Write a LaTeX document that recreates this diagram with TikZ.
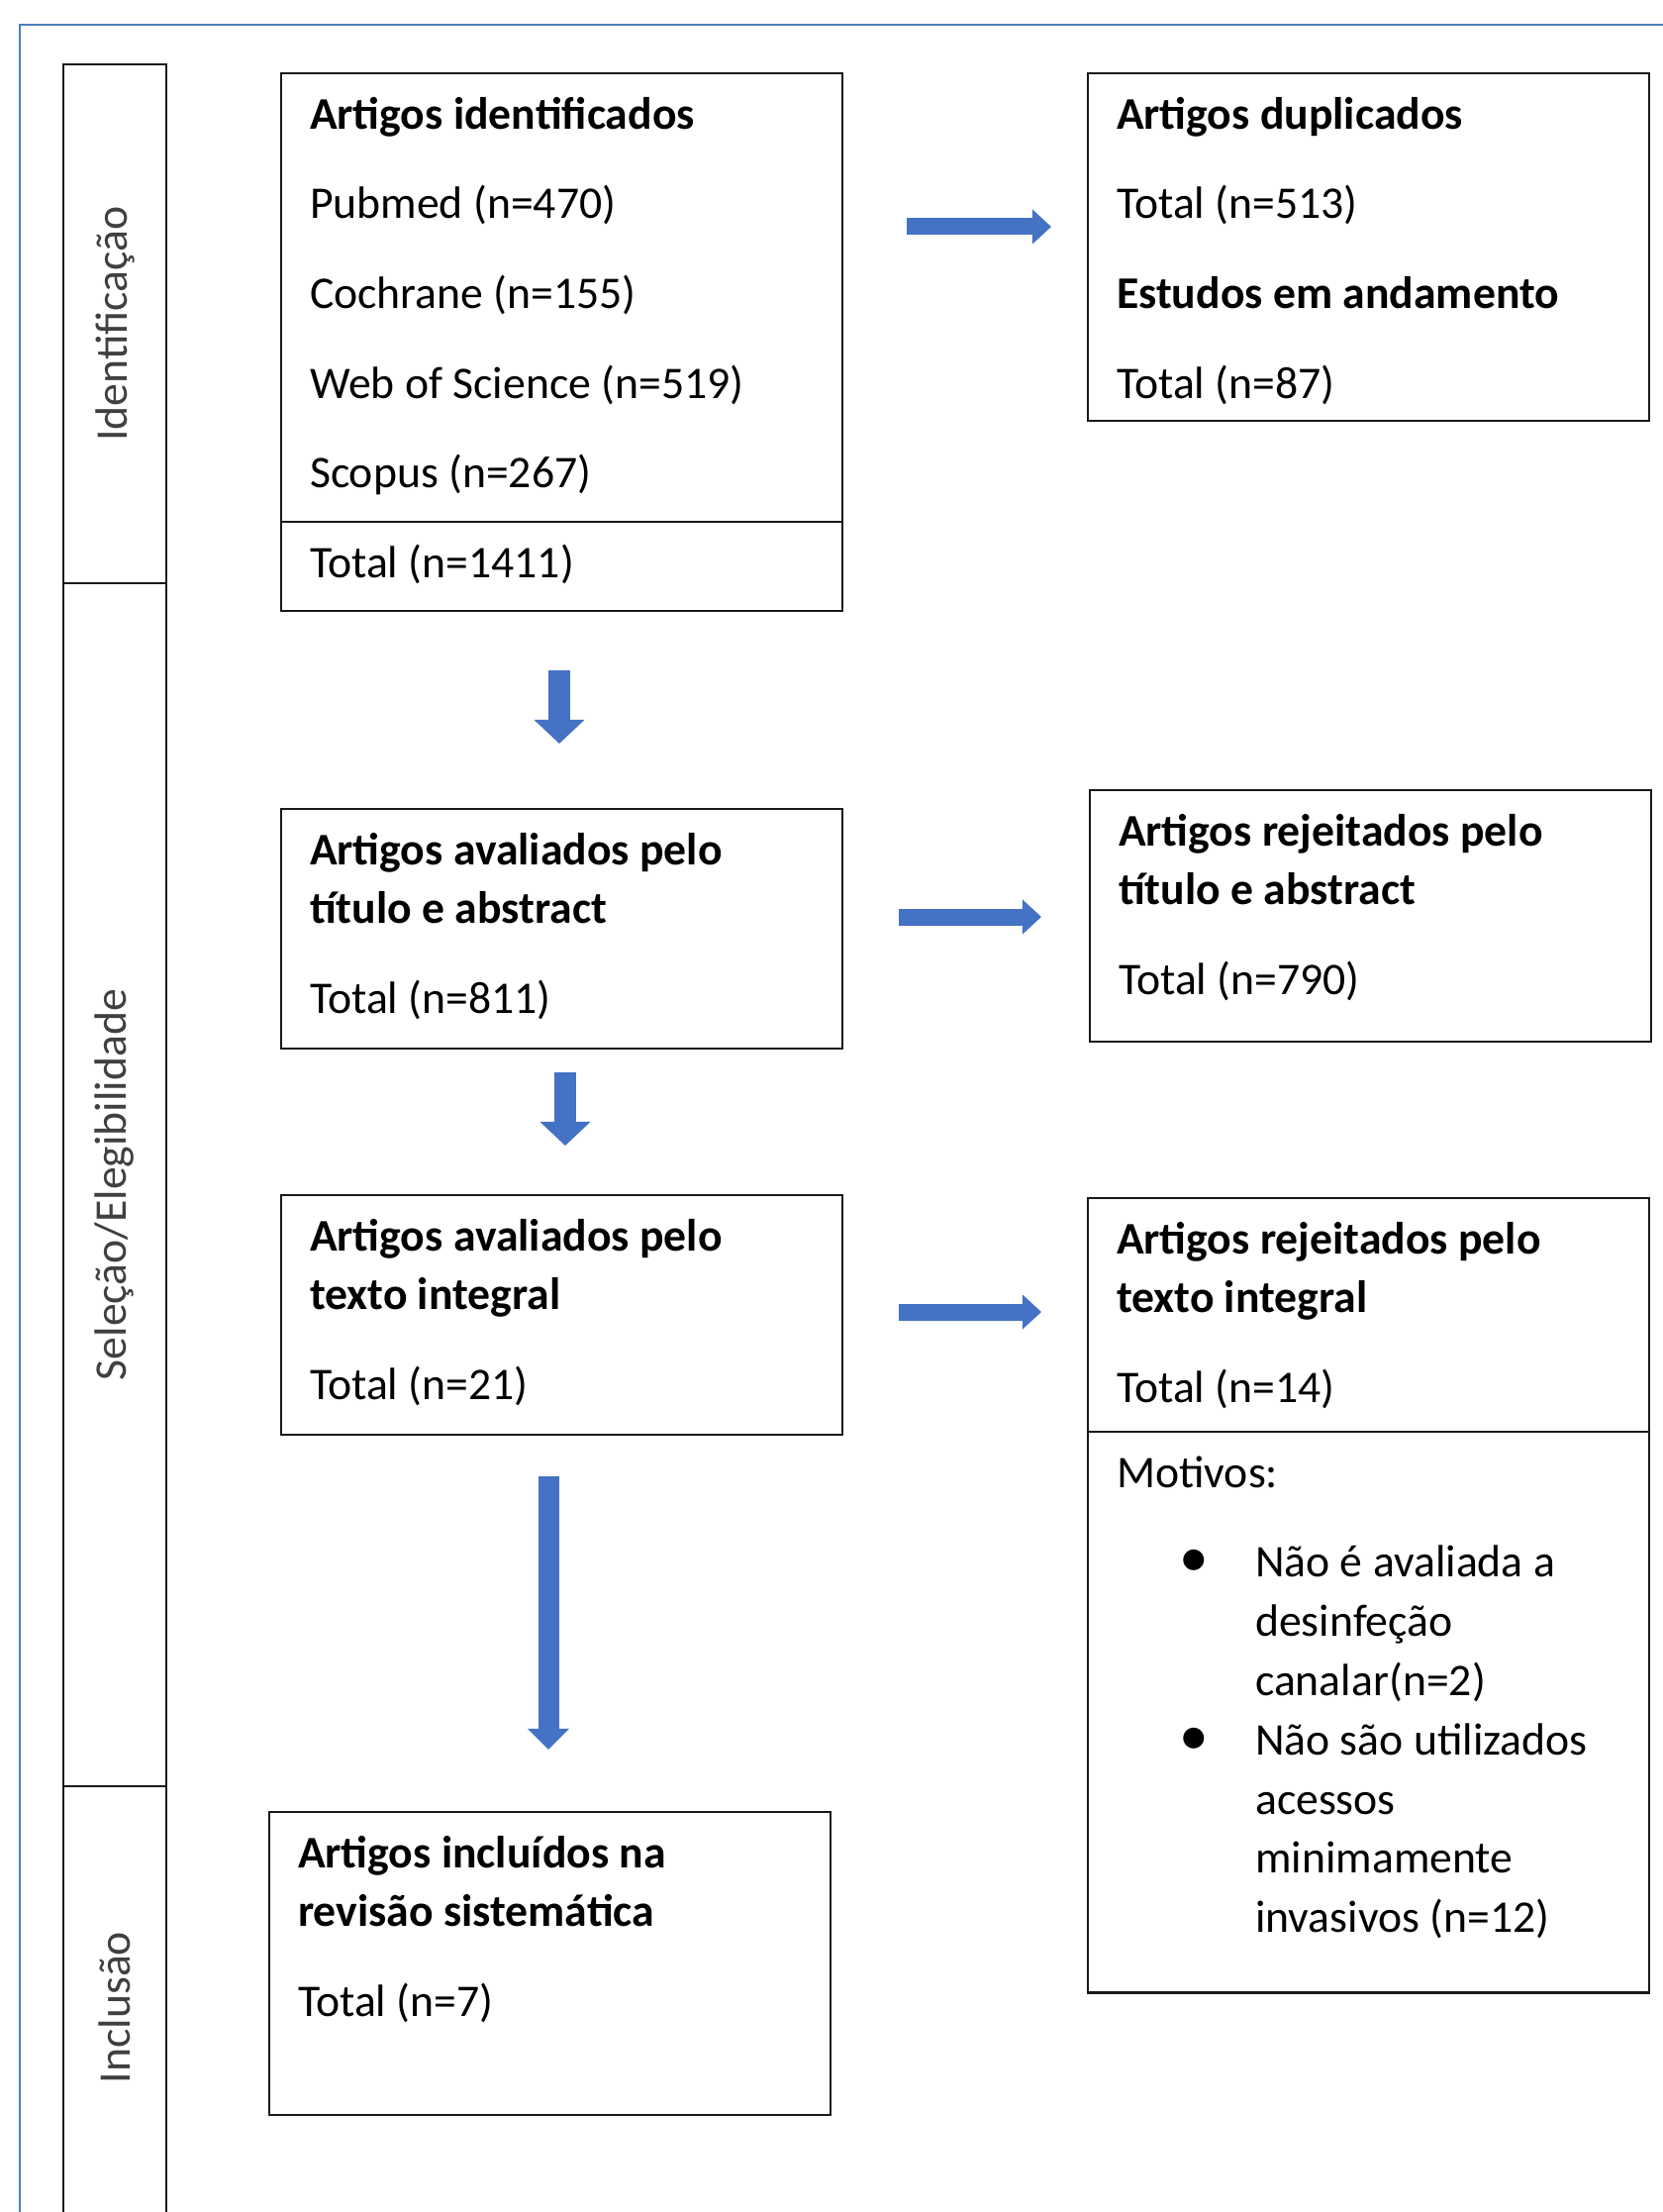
\documentclass[tikz,border=0pt]{standalone}
\usepackage{fontspec}
\setmainfont{Carlito}
\usetikzlibrary{positioning,arrows.meta}

\definecolor{framecol}{RGB}{74,126,187}
\definecolor{arrowcol}{RGB}{68,114,196}
\definecolor{phasetext}{RGB}{64,64,64}

% text block of a box: height, contents
\newcommand{\boxbody}[2]{\parbox[t][#1][t]{5.09cm}{\fontsize{13}{17}\selectfont\setlength{\parskip}{8.8pt}\rule{0pt}{0.56cm}#2}}
\newcommand{\listdot}{\llap{\makebox[1.24cm][c]{\scalebox{1.3}{\textbullet}}}}

\begin{document}
\begin{tikzpicture}[x=0.01cm, y=-0.01cm,
    box/.style={draw=black!90, line width=0.6pt, outer sep=0pt, inner xsep=0.29cm, inner ysep=0pt},
    phase/.style={draw=black!90, line width=0.6pt, outer sep=0pt, inner sep=0pt, minimum width=1.04cm},
    phaselabel/.style={rotate=90, text=phasetext, font=\fontsize{13}{15}\selectfont},
    flowright/.style={arrowcol, line width=0.17cm, -{Triangle[width=0.35cm,length=0.19cm,line width=0pt]}},
    flowdown/.style={arrowcol, line width=0.22cm, -{Triangle[width=0.51cm,length=0.24cm,line width=0pt]}}]
    \useasboundingbox (0,0) rectangle (1680,2234);

    % Outer frame
    \draw[framecol, line width=0.6pt] (20,2260) -- (20,25) -- (1700,25);

    % Phase column
    \node[phase, minimum height=5.24cm, label={[phaselabel]center:Identificação}] (phaseid) at (116,327) {};
    \node[phase, minimum height=12.14cm, below=0pt of phaseid, label={[phaselabel]center:Seleção/Elegibilidade}] (phasesel) {};
    \node[phase, minimum height=4.47cm, below=0pt of phasesel, label={[phaselabel]center:Inclusão}] (phaseinc) {};

    % Identification
    \node[box, anchor=north west] (found) at (284,74) {\boxbody{4.53cm}{\textbf{Artigos identificados}\par
        Pubmed (n=470)\par Cochrane (n=155)\par Web of Science (n=519)\par Scopus (n=267)}};
    \node[box, below=0pt of found] (foundtotal) {\boxbody{0.90cm}{Total (n=1411)}};
    \node[box, anchor=north west] (dupl) at (1099,74) {\boxbody{3.51cm}{\textbf{Artigos duplicados}\par
        Total (n=513)\par \textbf{Estudos em andamento}\par Total (n=87)}};

    % Screening
    \node[box, anchor=north west] (screen) at (284,817) {\boxbody{2.42cm}{\textbf{Artigos avaliados pelo\\ título e abstract}\par
        Total (n=811)}};
    \node[box, anchor=north west] (rejscreen) at (1101,798) {\boxbody{2.54cm}{\textbf{Artigos rejeitados pelo\\ título e abstract}\par
        Total (n=790)}};

    % Full text
    \node[box, anchor=north west] (fulltext) at (284,1207) {\boxbody{2.42cm}{\textbf{Artigos avaliados pelo\\ texto integral}\par
        Total (n=21)}};
    \node[box, anchor=north west] (rejfull) at (1099,1210) {\boxbody{2.36cm}{\textbf{Artigos rejeitados pelo\\ texto integral}\par
        Total (n=14)}};
    \node[box, below=0pt of rejfull] (reasons) {\boxbody{5.66cm}{Motivos:\par
        \noindent\hangindent=1.4cm \hangafter=0
        \listdot Não é avaliada a\\ desinfeção\\ canalar(n=2)\\
        \listdot Não são utilizados\\ acessos\\ minimamente\\ invasivos (n=12)}};

    % Inclusion
    \node[box, anchor=north west] (incl) at (272,1830) {\boxbody{3.06cm}{\textbf{Artigos incluídos na\\ revisão sistemática}\par
        Total (n=7)}};

    % Arrows
    \draw[flowright, shorten <=0.65cm, shorten >=0.37cm] (found.east |- 0,229) -- (dupl.west |- 0,229);
    \draw[flowright, shorten <=0.57cm, shorten >=0.49cm] (screen.east |- 0,926) -- (rejscreen.west |- 0,926);
    \draw[flowright, shorten <=0.57cm, shorten >=0.47cm] (fulltext.east |- 0,1325) -- (rejfull.west |- 0,1325);
    \draw[flowdown, shorten <=0.60cm, shorten >=0.66cm] (foundtotal.south -| 565,0) -- (screen.north -| 565,0);
    \draw[flowdown, shorten <=0.24cm, shorten >=0.50cm] (screen.south -| 571,0) -- (fulltext.north -| 571,0);
    \draw[flowdown, line width=0.21cm, -{Triangle[width=0.42cm,length=0.21cm,line width=0pt]},
        shorten <=0.42cm, shorten >=0.63cm] (fulltext.south -| 554,0) -- (incl.north -| 554,0);
\end{tikzpicture}
\end{document}
